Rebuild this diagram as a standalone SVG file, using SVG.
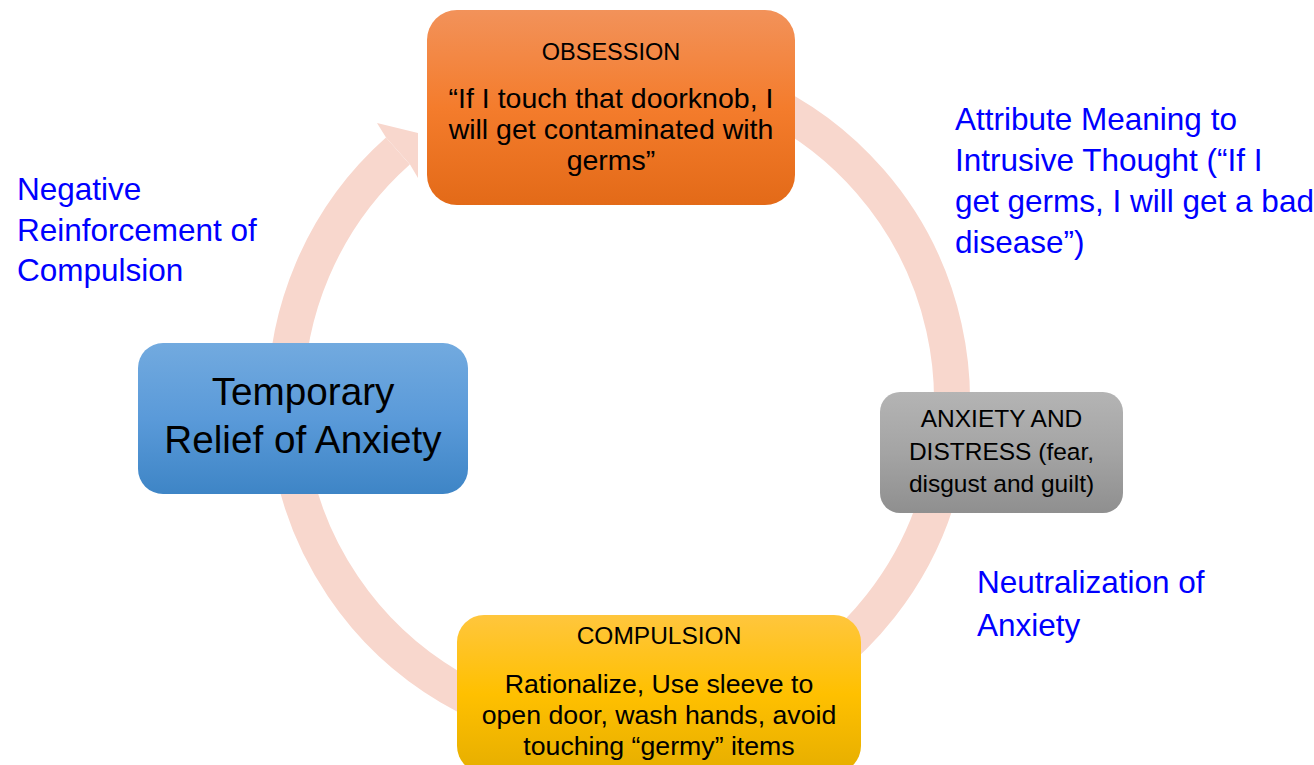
<svg xmlns="http://www.w3.org/2000/svg" width="1314" height="765" viewBox="0 0 1314 765">
  <defs>
    <linearGradient id="gOrange" x1="0" y1="0" x2="0" y2="1">
      <stop offset="0" stop-color="#F2925A"/>
      <stop offset="0.5" stop-color="#F47C2C"/>
      <stop offset="1" stop-color="#E36A18"/>
    </linearGradient>
    <linearGradient id="gBlue" x1="0" y1="0" x2="0" y2="1">
      <stop offset="0" stop-color="#72AADF"/>
      <stop offset="0.5" stop-color="#5A9AD9"/>
      <stop offset="1" stop-color="#3E85C6"/>
    </linearGradient>
    <linearGradient id="gGray" x1="0" y1="0" x2="0" y2="1">
      <stop offset="0" stop-color="#B4B4B4"/>
      <stop offset="0.5" stop-color="#A4A4A4"/>
      <stop offset="1" stop-color="#8F8F8F"/>
    </linearGradient>
    <linearGradient id="gYellow" x1="0" y1="0" x2="0" y2="1">
      <stop offset="0" stop-color="#FFC63D"/>
      <stop offset="0.5" stop-color="#FFC000"/>
      <stop offset="1" stop-color="#E6AE00"/>
    </linearGradient>
  </defs>
  <style>
    text { font-family: "Liberation Sans", Arial, sans-serif; fill: #000000; }
    .c { text-anchor: middle; }
    .lbl { fill: #0000FF; font-size: 31.5px; }
    .ring { fill: none; stroke: #F8D7CD; stroke-width: 36; }
    .head { fill: #F8D7CD; }
  </style>
  <rect width="1314" height="765" fill="#FFFFFF"/>

  <g id="connectors">
    <path class="ring" d="M 590 68.3 A 333 333 0 1 1 397.9 151.0"/>
    <polygon class="head" points="386,137.5 377,123 418,133 418,178 410,164.4"/>
  </g>

  <g id="obsession">
    <rect x="427" y="10" width="368" height="195" rx="30" fill="url(#gOrange)"/>
    <text class="c" x="611" y="60" font-size="23.5">OBSESSION</text>
    <text class="c" x="611" y="108" font-size="28.5">“If I touch that doorknob, I</text>
    <text class="c" x="611" y="139" font-size="28.5">will get contaminated with</text>
    <text class="c" x="611" y="170" font-size="28.5">germs”</text>
  </g>

  <g id="relief">
    <rect x="138" y="343" width="330" height="151" rx="25" fill="url(#gBlue)"/>
    <text class="c" x="303" y="405" font-size="38.7">Temporary</text>
    <text class="c" x="303" y="453" font-size="38.7">Relief of Anxiety</text>
  </g>

  <g id="anxiety">
    <rect x="880" y="392" width="243" height="121" rx="20" fill="url(#gGray)"/>
    <text class="c" x="1001.5" y="427" font-size="24.5">ANXIETY AND</text>
    <text class="c" x="1001.5" y="460" font-size="24.5">DISTRESS (fear,</text>
    <text class="c" x="1001.5" y="492" font-size="24.5">disgust and guilt)</text>
  </g>

  <g id="compulsion">
    <rect x="457" y="615" width="404" height="158" rx="27" fill="url(#gYellow)"/>
    <text class="c" x="659" y="644" font-size="24.5">COMPULSION</text>
    <text class="c" x="659" y="693" font-size="26.7">Rationalize, Use sleeve to</text>
    <text class="c" x="659" y="724" font-size="26.7">open door, wash hands, avoid</text>
    <text class="c" x="659" y="755" font-size="26.7">touching “germy” items</text>
  </g>

  <g id="label-negative">
    <text class="lbl" x="17" y="200">Negative</text>
    <text class="lbl" x="17" y="241">Reinforcement of</text>
    <text class="lbl" x="17" y="281">Compulsion</text>
  </g>

  <g id="label-attribute">
    <text class="lbl" x="955" y="130" font-size="31">Attribute Meaning to</text>
    <text class="lbl" x="955" y="171" font-size="31">Intrusive Thought (“If I</text>
    <text class="lbl" x="955" y="212" font-size="31">get germs, I will get a bad</text>
    <text class="lbl" x="955" y="253" font-size="31">disease”)</text>
  </g>

  <g id="label-neutralization">
    <text class="lbl" x="977" y="593">Neutralization of</text>
    <text class="lbl" x="977" y="636">Anxiety</text>
  </g>
</svg>
